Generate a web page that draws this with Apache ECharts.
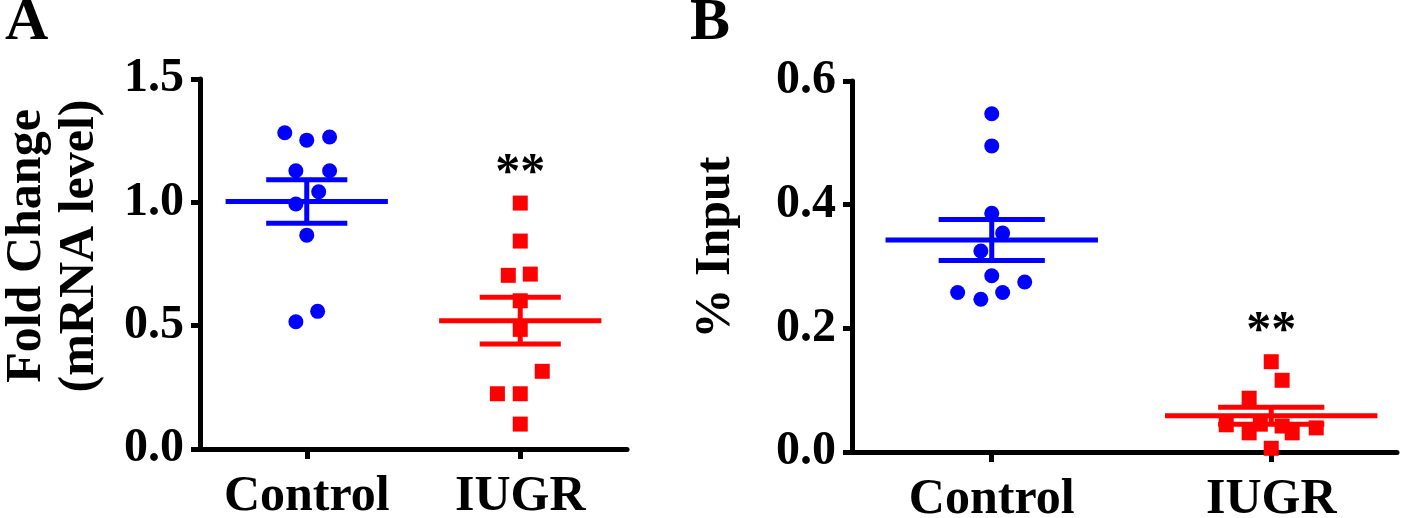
<!DOCTYPE html>
<html>
<head>
<meta charset="utf-8">
<script src="https://cdn.jsdelivr.net/npm/echarts@6/dist/echarts.min.js"></script>
<style>
  html, body { margin: 0; padding: 0; background: #fff; }
  #chart { width: 1418px; height: 518px; }
</style>
</head>
<body>
<div id="chart"></div>
<script>
// ---------- data ----------
const categories = ['Control', 'IUGR'];

// Panel A: Fold Change (mRNA level)
const foldControl = [1.282, 1.252, 1.265, 1.128, 1.128, 1.043, 0.993, 0.867, 0.558, 0.516];
const foldControlJitter = [-0.103, 0, 0.107, -0.051, 0.107, 0.056, -0.051, 0, 0.051, -0.051];
const foldIUGR = [0.997, 0.843, 0.704, 0.709, 0.601, 0.485, 0.315, 0.224, 0.224, 0.101];
const foldIUGRJitter = [0, 0, -0.056, 0.047, 0, 0, 0.103, -0.107, 0, 0];

// Panel B: % Input
const inputControl = [0.547, 0.495, 0.386, 0.354, 0.325, 0.285, 0.275, 0.258, 0.258, 0.247];
const inputControlJitter = [0, 0, 0, 0.039, -0.039, 0, 0.118, -0.122, 0.039, -0.039];
const inputIUGR = [0.146, 0.116, 0.087, 0.044, 0.031, 0.031, 0.039, 0.006, 0.045, 0.042];
const inputIUGRJitter = [0, 0.039, -0.079, -0.161, -0.079, 0.075, 0.161, 0, -0.039, 0.039];

// axis ticks
const yTicksA = [0, 0.5, 1.0, 1.5];
const yTicksB = [0, 0.2, 0.4, 0.6];

// significance annotation (value-space positions)
const sigLabel = '**';
const sigA = 1.115;
const sigB = 0.194;

// ---------- helpers ----------
function meanSem(arr) {
  const n = arr.length;
  const m = arr.reduce((a, b) => a + b, 0) / n;
  const v = arr.reduce((a, b) => a + (b - m) * (b - m), 0) / (n - 1);
  return [m, Math.sqrt(v) / Math.sqrt(n)];
}
function pts(vals, jit, group) {
  return vals.map((v, i) => [group + jit[i], v]);
}

const FONT = "'Liberation Serif', 'Times New Roman', serif";
const BLUE = '#0000ff';
const RED = '#ff0000';
const MEAN_HALF = 0.38;
const SEM_HALF = 0.19;
const LW = 5;

function renderMeanSem(params, api) {
  const g = api.value(0), m = api.value(1), s = api.value(2);
  const color = api.visual('color');
  const a = api.coord([g - MEAN_HALF, m]), b = api.coord([g + MEAN_HALF, m]);
  const u1 = api.coord([g - SEM_HALF, m + s]), u2 = api.coord([g + SEM_HALF, m + s]);
  const l1 = api.coord([g - SEM_HALF, m - s]), l2 = api.coord([g + SEM_HALF, m - s]);
  const vt = api.coord([g, m + s]), vb = api.coord([g, m - s]);
  const st = { stroke: color, lineWidth: LW };
  return {
    type: 'group',
    children: [
      { type: 'line', shape: { x1: a[0], y1: a[1], x2: b[0], y2: b[1] }, style: st },
      { type: 'line', shape: { x1: u1[0], y1: u1[1], x2: u2[0], y2: u2[1] }, style: st },
      { type: 'line', shape: { x1: l1[0], y1: l1[1], x2: l2[0], y2: l2[1] }, style: st },
      { type: 'line', shape: { x1: vt[0], y1: vt[1], x2: vb[0], y2: vb[1] }, style: st }
    ]
  };
}

function xAxisCfg(gridIndex, max) {
  return {
    type: 'value', gridIndex, min: 0.5, max,
    axisLine: { show: true, onZero: false, lineStyle: { color: '#000', width: LW } },
    axisTick: { show: true, customValues: [1, 2], length: 10, lineStyle: { color: '#000', width: LW } },
    axisLabel: {
      customValues: [1, 2], margin: 23,
      formatter: v => categories[Math.round(v) - 1],
      color: '#000', fontFamily: FONT, fontWeight: 'bold', fontSize: 50
    },
    splitLine: { show: false }
  };
}
function yAxisCfg(gridIndex, max, interval, name, nameGap, padLeft) {
  return {
    type: 'value', gridIndex, min: 0, max, interval,
    name, nameLocation: 'middle', nameGap,
    nameTextStyle: {
      color: '#000', fontFamily: FONT, fontWeight: 'bold', fontSize: 50,
      lineHeight: 53, padding: [0, 0, 0, padLeft]
    },
    axisLine: { show: true, lineStyle: { color: '#000', width: LW } },
    axisTick: { show: true, length: 9, lineStyle: { color: '#000', width: LW } },
    axisLabel: {
      margin: 16, formatter: v => v.toFixed(1),
      color: '#000', fontFamily: FONT, fontWeight: 'bold', fontSize: 48
    },
    splitLine: { show: false }
  };
}

const msA = [[1, ...meanSem(foldControl)], [2, ...meanSem(foldIUGR)]];
const msB = [[1, ...meanSem(inputControl)], [2, ...meanSem(inputIUGR)]];

const sigLabelCfg = {
  show: true, position: 'inside', formatter: sigLabel,
  color: '#000', textBorderWidth: 0, opacity: 1,
  fontFamily: FONT, fontWeight: 'bold', fontSize: 50
};

const chart = echarts.init(document.getElementById('chart'), null, { renderer: 'canvas' });
chart.setOption({
  animation: false,
  backgroundColor: '#fff',
  graphic: [
    { type: 'text', left: 5, top: -7, style: { text: 'A', font: 'bold 60px ' + FONT, fill: '#000' } },
    { type: 'text', left: 690, top: -7, style: { text: 'B', font: 'bold 60px ' + FONT, fill: '#000' } }
  ],
  grid: [
    { left: 200, top: 79, width: 427, height: 370, containLabel: false, outerBoundsMode: 'none' },
    { left: 852, top: 81, width: 545, height: 371, containLabel: false, outerBoundsMode: 'none' }
  ],
  xAxis: [xAxisCfg(0, 2.5), xAxisCfg(1, 2.45)],
  yAxis: [
    yAxisCfg(0, 1.5, 0.5, 'Fold Change\n(mRNA level)', 93, 36),
    yAxisCfg(1, 0.6, 0.2, '% Input', 109, 38)
  ],
  series: [
    { type: 'custom', xAxisIndex: 0, yAxisIndex: 0, renderItem: renderMeanSem, z: 2,
      data: msA.map((d, i) => ({ value: d, itemStyle: { color: i === 0 ? BLUE : RED } })) },
    { type: 'custom', xAxisIndex: 1, yAxisIndex: 1, renderItem: renderMeanSem, z: 2,
      data: msB.map((d, i) => ({ value: d, itemStyle: { color: i === 0 ? BLUE : RED } })) },
    { type: 'scatter', xAxisIndex: 0, yAxisIndex: 0, symbol: 'circle', symbolSize: 15, z: 3,
      itemStyle: { color: BLUE, opacity: 1 }, data: pts(foldControl, foldControlJitter, 1) },
    { type: 'scatter', xAxisIndex: 0, yAxisIndex: 0, symbol: 'rect', symbolSize: 15, z: 3,
      itemStyle: { color: RED, opacity: 1 }, data: pts(foldIUGR, foldIUGRJitter, 2) },
    { type: 'scatter', xAxisIndex: 1, yAxisIndex: 1, symbol: 'circle', symbolSize: 15, z: 3,
      itemStyle: { color: BLUE, opacity: 1 }, data: pts(inputControl, inputControlJitter, 1) },
    { type: 'scatter', xAxisIndex: 1, yAxisIndex: 1, symbol: 'rect', symbolSize: 15, z: 3,
      itemStyle: { color: RED, opacity: 1 }, data: pts(inputIUGR, inputIUGRJitter, 2) },
    { type: 'scatter', xAxisIndex: 0, yAxisIndex: 0, symbolSize: 1, z: 4, silent: true,
      itemStyle: { color: '#fff', opacity: 0 },
      label: sigLabelCfg, data: [[2, sigA]] },
    { type: 'scatter', xAxisIndex: 1, yAxisIndex: 1, symbolSize: 1, z: 4, silent: true,
      itemStyle: { color: '#fff', opacity: 0 },
      label: sigLabelCfg, data: [[2, sigB]] }
  ]
});
</script>
</body>
</html>
